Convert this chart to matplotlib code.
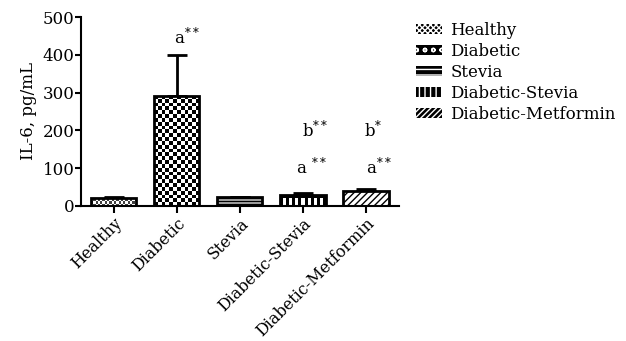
import numpy as np
import matplotlib
matplotlib.use('Agg')
import matplotlib.pyplot as plt
from matplotlib.patches import Patch

# ---- data ----
categories = ['Healthy', 'Diabetic', 'Stevia', 'Diabetic-Stevia', 'Diabetic-Metformin']
means = [22, 292, 23, 29, 39]
err_up = [1, 108, 1, 5, 6]
yticks = [0, 100, 200, 300, 400, 500]
ann_bar = [1, 3, 3, 4, 4]
ann_y = [428, 85, 183, 85, 183]
ann_text = ['a$^{**}$', 'a $^{**}$', 'b$^{**}$', 'a$^{**}$', 'b$^{*}$']
ann_dx = [0.16, 0.13, 0.19, 0.2, 0.11]

plt.rcParams['font.family'] = ['DejaVu Serif']
plt.rcParams['mathtext.fontset'] = 'dejavuserif'
plt.rcParams['hatch.color'] = 'white'
plt.rcParams['hatch.linewidth'] = 1.0

W, H = 626, 341
fig = plt.figure(figsize=(W / 100, H / 100), dpi=100)
ax = fig.add_axes([81 / W, 1 - 206 / H, (399 - 81) / W, (206 - 17) / H])

x = np.arange(len(categories))
width = 0.72
XL = (-0.516, 4.524)
ax.set_xlim(*XL)
ax.set_ylim(0, 500)

bars = ax.bar(x, means, width=width, facecolor='none', edgecolor='black',
              linewidth=2, zorder=3)
# Metformin diagonal hatch
bars[4].set_facecolor('white')
bars[4].set_hatch('/////')
bars[4].set_zorder(2)

ax.errorbar(x, means, yerr=[np.zeros(len(means)), err_up], fmt='none',
            ecolor='black', elinewidth=2, capsize=7, capthick=2, zorder=1)


def px_size(bar):
    x0, y0 = ax.transData.transform((bar.get_x(), bar.get_y()))
    x1, y1 = ax.transData.transform((bar.get_x() + bar.get_width(),
                                     bar.get_y() + bar.get_height()))
    return abs(x1 - x0), abs(y1 - y0)


def place(bar, arr, cmap='gray'):
    ext = (bar.get_x(), bar.get_x() + bar.get_width(), bar.get_y(),
           bar.get_y() + bar.get_height())
    im = ax.imshow(arr, extent=ext, cmap=cmap, vmin=0, vmax=1, aspect='auto',
                   interpolation='nearest', zorder=2, origin='upper')
    im.set_clip_path(bar)


# Healthy: fine checker
b = bars[0]
wpx, hpx = px_size(b)
nc = 20
nr = max(2, int(round(nc * hpx / wpx)))
chk = ((np.add.outer(np.arange(nr), np.arange(nc)) % 2) * 0.75 + 0.25)
place(b, chk)

# Diabetic: coarse checker
b = bars[1]
wpx, hpx = px_size(b)
nc = 12
nr = int(round(nc * hpx / wpx))
chk = (np.add.outer(np.arange(nr), np.arange(nc)) % 2).astype(float)
place(b, chk)

# Stevia: horizontal stripes
b = bars[2]
stripes = np.array([[0.0], [0.6], [0.0], [0.6], [0.0]])
place(b, stripes)

# Diabetic-Stevia: vertical white lines
b = bars[3]
cols = (np.arange(15) % 2).astype(float)
vs = np.vstack([np.zeros(15), cols, cols, cols])
place(b, vs)

ax.set_xlim(*XL)
ax.set_ylim(0, 500)

for bi, yy, t, dx in zip(ann_bar, ann_y, ann_text, ann_dx):
    ax.text(x[bi] + dx, yy, t, ha='center', va='baseline', fontsize=12)

ax.set_yticks(yticks)
ax.set_xticks(x)
ax.set_xticklabels(categories, rotation=45, ha='right', rotation_mode='anchor',
                   fontsize=11.5)
ax.tick_params(axis='y', labelsize=12, width=1.5, length=4, pad=0.5)
ax.tick_params(axis='x', width=1.5, length=5, pad=1.5)
ax.set_ylabel('IL-6, pg/mL', fontsize=12, labelpad=4)
for s in ['top', 'right']:
    ax.spines[s].set_visible(False)
for s in ['left', 'bottom']:
    ax.spines[s].set_linewidth(1.5)

handles = [
    Patch(facecolor='black', hatch='xxxxxx', label=categories[0]),
    Patch(facecolor='black', hatch='oo', label=categories[1]),
    Patch(facecolor='black', hatch='---', label=categories[2]),
    Patch(facecolor='black', hatch='|||', label=categories[3]),
    Patch(facecolor='black', hatch='//////', label=categories[4]),
]
fig.legend(handles=handles, loc='upper left', bbox_to_anchor=(416 / W, 1 - 22 / H),
           frameon=False, fontsize=12, handlelength=1.55, handleheight=0.6,
           handletextpad=0.5, labelspacing=0.24, borderaxespad=0, borderpad=0)

fig.savefig('out.png', dpi=100)
